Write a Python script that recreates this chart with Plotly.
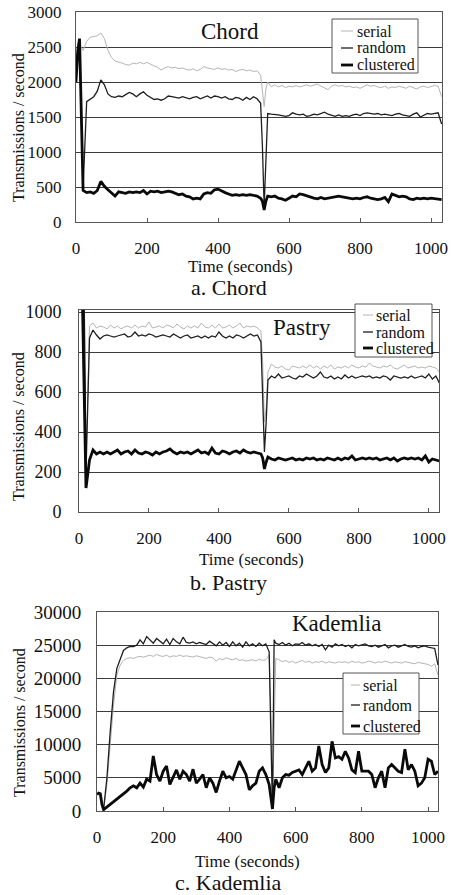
import plotly.graph_objects as go

W, H = 452, 895

# Sampling times (seconds) shared by all series
T = [0, 5, 10, 15, 20] + list(range(30, 521, 10)) + [525, 530, 535] + list(range(540, 1031, 10))

# ---------------- Chord ----------------
chord_serial = [2100, 2400, 2550, 2500, 2450,
    2580, 2640, 2650, 2660, 2700, 2620, 2450, 2350, 2300, 2290,
    2270, 2250, 2240, 2270, 2260, 2280, 2260, 2280, 2250, 2230,
    2210, 2170, 2200, 2220, 2200, 2210, 2190, 2200, 2180, 2170,
    2190, 2160, 2180, 2220, 2200, 2190, 2180, 2200, 2180, 2190,
    2170, 2180, 2150, 2170, 2180, 2160, 2170, 2150, 2160, 2100,
    1900, 1650, 1900,
    2000, 1930, 1960, 1930, 1950, 1920, 1940, 1930, 1950, 1930,
    1940, 1960, 1940, 1950, 1970, 1940, 1920, 1890, 1940, 1960,
    1940, 1950, 1930, 1940, 1920, 1930, 1910, 1940, 1960, 1940,
    1950, 1930, 1920, 1940, 1910, 1930, 1920, 1940, 1930, 1910,
    1940, 1920, 1900, 1930, 1940, 1920, 1930, 1950, 1940, 1790]
chord_random = [2200, 2450, 2550, 1500, 480,
    1720, 1750, 1790, 1870, 2030, 1960, 1830, 1790, 1780, 1800,
    1790, 1820, 1850, 1830, 1790, 1830, 1860, 1810, 1780, 1750,
    1760, 1740, 1760, 1800, 1790, 1780, 1770, 1790, 1770, 1760,
    1780, 1790, 1760, 1780, 1800, 1770, 1800, 1790, 1770, 1790,
    1760, 1750, 1780, 1770, 1740, 1780, 1750, 1790, 1760, 1700,
    1100, 220, 900,
    1550, 1540, 1540, 1530, 1520, 1510, 1520, 1560, 1540, 1530,
    1540, 1510, 1520, 1540, 1530, 1550, 1570, 1540, 1520, 1510,
    1530, 1510, 1520, 1510, 1530, 1540, 1520, 1550, 1560, 1550,
    1540, 1550, 1530, 1540, 1530, 1520, 1540, 1550, 1530, 1520,
    1510, 1540, 1560, 1500, 1530, 1550, 1540, 1550, 1560, 1400]
chord_clustered = [2000, 2450, 2620, 1400, 450,
    420, 430, 410, 450, 580, 510, 460, 420, 370, 430,
    420, 410, 430, 420, 430, 420, 450, 400, 440, 430,
    440, 420, 430, 440, 430, 410, 390, 400, 370, 360,
    330, 340, 330, 400, 420, 410, 460, 470, 440, 420,
    400, 380, 390, 380, 390, 380, 390, 380, 370, 340,
    300, 170, 300,
    370, 360, 370, 340, 330, 310, 340, 370, 360, 400,
    390, 370, 350, 340, 330, 350, 330, 340, 350, 360,
    370, 360, 350, 340, 330, 340, 330, 350, 360, 340,
    330, 320, 330, 350, 290, 400, 380, 360, 370, 360,
    330, 320, 340, 330, 340, 330, 340, 330, 330, 320]

# ---------------- Pastry ----------------
pastry_serial = [None, None, None, 1040, 250,
    930, 945, 920, 930, 925, 915, 935, 920, 930, 915,
    925, 930, 920, 935, 920, 930, 925, 950, 920, 925,
    930, 920, 935, 930, 920, 940, 925, 915, 930, 920,
    930, 920, 945, 925, 920, 935, 920, 940, 920, 925,
    935, 920, 930, 945, 920, 930, 925, 930, 920, 905,
    750, 450, 520,
    700, 740, 725, 720, 730, 715, 710, 730, 725, 720,
    730, 720, 735, 720, 730, 715, 730, 720, 735, 715,
    725, 720, 730, 720, 735, 725, 720, 730, 725, 745,
    730, 725, 720, 730, 725, 735, 720, 715, 725, 735,
    720, 725, 730, 720, 725, 720, 730, 725, 720, 700]
pastry_random = [None, None, None, 1040, 200,
    870, 910, 885, 865, 880, 885, 880, 875, 880, 885,
    890, 875, 880, 900, 880, 885, 880, 890, 885, 875,
    880, 885, 880, 875, 890, 880, 870, 880, 885, 870,
    875, 880, 870, 880, 870, 880, 875, 900, 880, 870,
    880, 870, 885, 880, 870, 880, 890, 880, 885, 850,
    620, 300, 450,
    660, 680, 670, 690, 670, 675, 680, 670, 665, 680,
    675, 690, 680, 670, 680, 700, 675, 670, 680, 665,
    675, 665, 685, 670, 680, 670, 675, 680, 675, 680,
    670, 675, 670, 680, 675, 660, 680, 675, 670, 675,
    670, 680, 670, 675, 680, 670, 690, 665, 680, 645]
pastry_clustered = [None, None, 1040, 600, 120,
    260, 310, 290, 300, 290, 300, 290, 300, 310, 290,
    300, 305, 290, 310, 295, 290, 300, 295, 285, 300,
    290, 300, 305, 315, 300, 290, 300, 295, 300, 290,
    300, 310, 295, 300, 290, 320, 295, 290, 305, 300,
    290, 300, 305, 295, 310, 300, 295, 300, 295, 290,
    270, 215, 250,
    275, 265, 260, 270, 265, 260, 265, 270, 260, 265,
    260, 270, 265, 270, 260, 265, 260, 270, 265, 260,
    270, 260, 270, 265, 280, 260, 265, 270, 265, 270,
    265, 270, 260, 265, 270, 260, 270, 255, 265, 270,
    265, 270, 265, 270, 260, 280, 250, 265, 260, 255]

# ---------------- Kademlia ----------------
kad_serial = [None, None, None, None, 300,
    4000, 10000, 16000, 20500, 22000, 22700, 23000, 23100, 23000, 23200,
    23300, 23200, 23400, 23500, 23300, 23600, 23400, 23300, 23500, 23200,
    23400, 23300, 23500, 23300, 23400, 23300, 23200, 23400, 23300, 23100,
    23000, 23200, 23100, 22600, 23000, 22800, 23100, 22900, 22800, 23000,
    22700, 22800, 22600, 22700, 22800, 22600, 22900, 22700, 22800, 23500,
    15000, 500, 15000,
    23000, 22800, 22500, 22700, 22400, 22600, 22300, 22500, 22700, 22400,
    22600, 22300, 22500, 22400, 22600, 22300, 22500, 22400, 22300, 22500,
    22400, 22500, 22300, 22600, 22400, 22500, 22300, 22400, 22600, 22500,
    22300, 22500, 22400, 22600, 22400, 22300, 22500, 22400, 22300, 22500,
    22400, 22300, 22200, 22400, 22300, 22200, 22100, 21800, 22200, 20500]
kad_random = [None, None, None, None, 300,
    5000, 12000, 18000, 21500, 23000, 24200, 24600, 24800, 24800, 25000,
    25800, 25200, 26300, 25800, 25300, 26000, 25600, 25200, 25900, 25100,
    26000, 25500, 25200, 26200, 25400, 25300, 25500, 25200, 25400, 25300,
    25100, 25600, 25200, 24900, 25500, 25000, 25400, 24800, 25500, 24900,
    25300, 24700, 25500, 24900, 25200, 24800, 25300, 24900, 25200, 24000,
    12000, 300, 25800,
    25300, 25100, 25400, 25000, 25300, 24900, 25200, 25100, 25400, 25000,
    25200, 24900, 25100, 24800, 25100, 24300, 25000, 24700, 25200, 24900,
    25100, 24800, 25000, 24600, 25100, 24900, 25000, 25200, 24900, 24800,
    25000, 24700, 24900, 25100, 24600, 24900, 25000, 24700, 24900, 25100,
    24800, 24700, 24900, 24600, 24800, 24900, 24700, 24600, 24500, 22000]
kad_clustered = [2500, 2700, 2600, 1000, 200,
    600, 1000, 1400, 1800, 2200, 2500, 3000, 3500, 3800, 3500,
    4200, 3600, 4800, 4500, 8300, 5500, 4500, 6000, 6800, 4000,
    5000, 6200, 4800, 6000, 5500, 4500, 6300, 4200, 4800, 5500,
    3500, 5000, 4200, 2800, 4500, 6000, 5000, 5200, 4800, 6200,
    7500, 6500, 5500, 3200, 3800, 4200, 6000, 6500, 5500, 4000,
    2000, 300, 3500,
    4800, 3500, 5000, 5500, 5400, 5800, 6000, 6200, 5500, 6400,
    7500, 6000, 6500, 9800, 7000, 5800, 6500, 10500, 8000, 8200,
    7800, 9000, 8000, 6200, 5800, 9000, 6000, 6000, 6000, 5500,
    3500, 5000, 6000, 3500, 6500, 7000, 6500, 6000, 5800, 9300,
    6200, 7000, 6000, 3800, 4200, 5000, 7800, 7500, 5500, 6000]

series_names = ["serial", "random", "clustered"]
x_ticks = [0, 200, 400, 600, 800, 1000]
chord_yticks = [0, 500, 1000, 1500, 2000, 2500, 3000]
pastry_yticks = [0, 200, 400, 600, 800, 1000]
kad_yticks = [0, 5000, 10000, 15000, 20000, 25000, 30000]

FONT = "Liberation Serif"
INK = "#111111"
styles = {"serial": dict(color="#b4b4b4", width=1.0),
          "random": dict(color="#1e1e1e", width=1.3),
          "clustered": dict(color="#0a0a0a", width=2.8)}

def px(x):
    return x / W

def py(y):
    return 1 - y / H

panels = [
    dict(data=[chord_serial, chord_random, chord_clustered], box=(76, 442, 12, 222),
         xr=[0, 1031], yr=[0, 3000], yt=chord_yticks, ystand=10, yfs=17,
         title="Chord", tpos=(230, 31), ytitle=(19, 128), xtitle=(240, 266),
         cap="a. Chord", cpos=(229, 287),
         leg=(332, 418, 19, 73), legy=(31, 48, 65), legx=(341, 353, 355)),
    dict(data=[pastry_serial, pastry_random, pastry_clustered], box=(79, 439, 310, 512),
         xr=[0, 1029], yr=[0, 1010], yt=pastry_yticks, ystand=13, yfs=18,
         title="Pastry", tpos=(302, 327), ytitle=(18, 427), xtitle=(251, 559),
         cap="b. Pastry", cpos=(228, 582),
         leg=(355, 432, 304, 357), legy=(315, 332, 348), legx=(363, 373, 374)),
    dict(data=[kad_serial, kad_random, kad_clustered], box=(97, 438, 612, 811),
         xr=[0, 1030], yr=[0, 30000], yt=kad_yticks, ystand=11, yfs=19,
         title="Kademlia", tpos=(336, 623), ytitle=(19, 723), xtitle=(247, 861),
         cap="c. Kademlia", cpos=(228, 882),
         leg=(343, 419, 673, 734), legy=(685, 705, 726), legx=(351, 360, 361)),
]

fig = go.Figure()
layout = dict(width=W, height=H, margin=dict(l=0, r=0, t=0, b=0, pad=0, autoexpand=False),
              paper_bgcolor="white", plot_bgcolor="white", showlegend=False,
              font=dict(family=FONT, color=INK))
annotations = []
shapes = []

def ann(text, x, y, size, xanchor="center", angle=0):
    return dict(text=text, x=px(x), y=py(y), xref="paper", yref="paper",
                xanchor=xanchor, yanchor="middle", showarrow=False, textangle=angle,
                font=dict(family=FONT, size=size, color=INK))

for i, p in enumerate(panels):
    n = "" if i == 0 else str(i + 1)
    xa, ya = "x" + n, "y" + n
    for name, vals in zip(series_names, p["data"]):
        fig.add_trace(go.Scatter(x=T, y=vals, mode="lines", name=name,
                                 line=styles[name], xaxis=xa, yaxis=ya,
                                 connectgaps=False, hoverinfo="skip"))
    x0, x1, y0, y1 = p["box"]
    layout["xaxis" + n] = dict(domain=[px(x0), px(x1)], range=p["xr"], anchor=ya,
                               tickvals=x_ticks, ticks="inside", ticklen=4, tickcolor="#555",
                               showgrid=False, zeroline=False, showline=True,
                               linecolor="#555", linewidth=1, mirror=True,
                               ticklabelstandoff=11, automargin=False,
                               tickfont=dict(family=FONT, size=17, color=INK))
    layout["yaxis" + n] = dict(domain=[py(y1), py(y0)], range=p["yr"], anchor=xa,
                               tickvals=p["yt"], tickformat="d", ticks="", showgrid=True,
                               gridcolor="#3c3c3c", gridwidth=1, zeroline=False,
                               showline=True, linecolor="#555", linewidth=1, mirror=True,
                               ticklabelstandoff=p["ystand"], automargin=False,
                               tickfont=dict(family=FONT, size=p["yfs"], color=INK))
    annotations.append(ann(p["title"], *p["tpos"], 23))
    annotations.append(ann("Transmissions / second", *p["ytitle"], 16, angle=-90))
    annotations.append(ann("Time (seconds)", *p["xtitle"], 17))
    annotations.append(ann(p["cap"], *p["cpos"], 22))
    # legend box
    lx0, lx1, ly0, ly1 = p["leg"]
    shapes.append(dict(type="rect", xref="paper", yref="paper",
                       x0=px(lx0), x1=px(lx1), y0=py(ly1), y1=py(ly0),
                       fillcolor="white", line=dict(color="#555", width=1), layer="above"))
    sx0, sx1, tx = p["legx"]
    for name, ly in zip(series_names, p["legy"]):
        shapes.append(dict(type="line", xref="paper", yref="paper",
                           x0=px(sx0), x1=px(sx1), y0=py(ly), y1=py(ly),
                           line=styles[name], layer="above"))
        annotations.append(ann(name, tx, ly, 16, xanchor="left"))

layout["annotations"] = annotations
layout["shapes"] = shapes
fig.update_layout(**layout)
fig.write_html("out.html", config={"displayModeBar": False},
               post_script="document.body.style.margin='0px';")
